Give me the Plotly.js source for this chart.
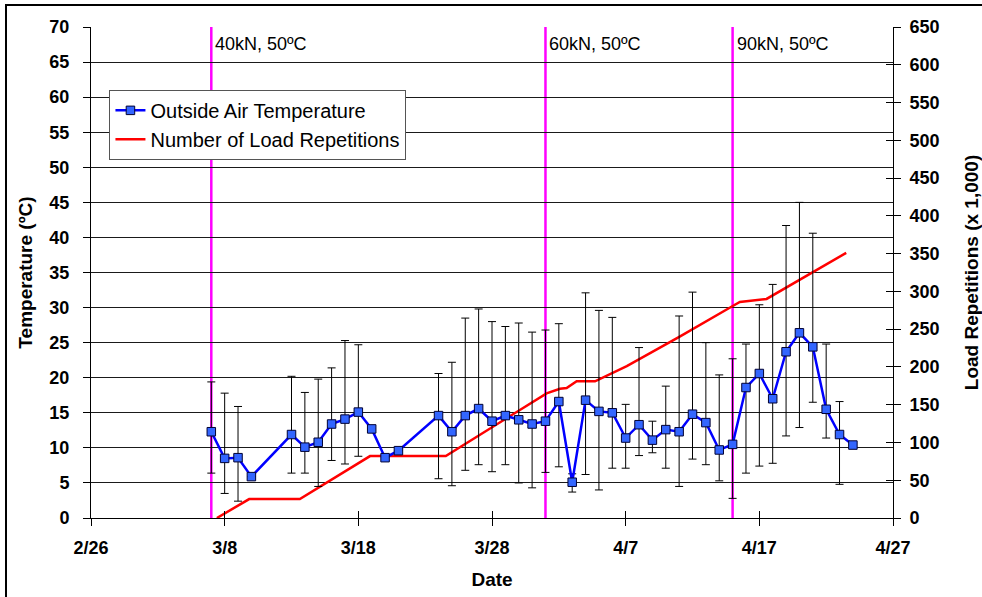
<!DOCTYPE html>
<html>
<head>
<meta charset="utf-8">
<script src="https://cdn.plot.ly/plotly-3.0.1.min.js"></script>
<style>
  html, body { margin: 0; padding: 0; background: #fff; overflow: hidden; }
  #chart { width: 982px; height: 597px; }
  #frame { position: absolute; left: 5px; top: 4px; width: 2000px; height: 2000px;
           border: 2px solid #000; pointer-events: none; }
</style>
</head>
<body>
<div id="chart"></div>
<div id="frame"></div>
<script>
// ---- Data ----
const tempDates = ["2003-03-07","2003-03-08","2003-03-09","2003-03-10","2003-03-13","2003-03-14","2003-03-15","2003-03-16","2003-03-17","2003-03-18","2003-03-19","2003-03-20","2003-03-21","2003-03-24","2003-03-25","2003-03-26","2003-03-27","2003-03-28","2003-03-29","2003-03-30","2003-03-31","2003-04-01","2003-04-02","2003-04-03","2003-04-04","2003-04-05","2003-04-06","2003-04-07","2003-04-08","2003-04-09","2003-04-10","2003-04-11","2003-04-12","2003-04-13","2003-04-14","2003-04-15","2003-04-16","2003-04-17","2003-04-18","2003-04-19","2003-04-20","2003-04-21","2003-04-22","2003-04-23","2003-04-24"];
const tempMean = [12.3,8.5,8.6,5.9,11.9,10.1,10.8,13.4,14.1,15.1,12.7,8.6,9.6,14.6,12.3,14.6,15.6,13.8,14.6,14.0,13.4,13.8,16.6,5.1,16.8,15.2,15.0,11.4,13.3,11.1,12.6,12.3,14.8,13.6,9.7,10.5,18.6,20.6,17.0,23.7,26.4,24.4,15.5,11.9,10.4];
const tempMax  = [19.4,17.8,15.9,null,20.2,17.9,19.8,21.4,25.3,24.7,null,null,null,20.6,22.2,28.5,29.8,28.0,27.3,27.8,26.5,26.8,27.7,6.3,32.1,29.6,28.6,16.2,24.3,13.8,18.8,28.8,32.2,25.0,20.4,22.7,24.8,30.4,33.3,41.7,45.0,40.6,24.8,16.6,null];
const tempMin  = [6.4,3.5,2.4,null,6.4,6.4,4.5,8.2,7.7,8.8,null,null,null,5.6,4.6,6.8,7.6,6.6,7.6,5.0,4.3,6.5,7.3,3.7,6.2,4.0,7.1,7.1,8.9,9.3,7.1,4.5,8.4,7.6,5.3,2.8,6.4,7.4,7.8,11.7,12.9,16.5,11.4,4.8,null];

const repDates  = ["2003-03-07 10:00","2003-03-09 20:00","2003-03-13 15:00","2003-03-18 21:00","2003-03-24 13:00","2003-03-30 02:00","2003-04-01 02:00","2003-04-02 02:00","2003-04-02 14:00","2003-04-03 08:00","2003-04-04 17:00","2003-04-07 02:00","2003-04-11 01:00","2003-04-15 01:00","2003-04-15 13:00","2003-04-17 13:00","2003-04-23 12:00"];
const repValues = [0,25,25,82,82,143,165,171,172,181,181,201,240,281,286,290,351];

const phaseDates  = ["2003-03-07","2003-04-01","2003-04-15"];
const phaseLabels = ["40kN, 50ºC","60kN, 50ºC","90kN, 50ºC"];

const xRange = ["2003-02-26","2003-04-27"];
const tempRange = [0,70];
const repRange = [0,650];

// ---- derived error bar arrays ----
const errPlus  = tempMean.map((v,i) => tempMax[i] == null ? null : +(tempMax[i]-v).toFixed(2));
const errMinus = tempMean.map((v,i) => tempMin[i] == null ? null : +(v-tempMin[i]).toFixed(2));

const FONT = "Liberation Sans, Arial, Helvetica, sans-serif";
const DAY = 86400000;

const traces = [
  {
    x: repDates, y: repValues, type: "scatter", mode: "lines",
    name: "Number of Load Repetitions", xaxis: "x", yaxis: "y",
    line: { color: "#FF0000", width: 2.5 }, legendrank: 2
  },
  {
    x: tempDates, y: tempMean, type: "scatter", mode: "lines+markers",
    name: "Outside Air Temperature", xaxis: "x", yaxis: "y2",
    line: { color: "#0000FF", width: 2.5 },
    marker: { symbol: "square", size: 8.5, color: "#3366FF", line: { color: "#000033", width: 1 } },
    error_y: { type: "data", symmetric: false, array: errPlus, arrayminus: errMinus,
               color: "#000", thickness: 1, width: 4 },
    legendrank: 1
  },
  { x: [], y: [], xaxis: "x2", yaxis: "y3", type: "scatter", showlegend: false, hoverinfo: "skip" }
];

const shapes = phaseDates.map(d => ({
  type: "line", xref: "x", yref: "paper", x0: d, x1: d, y0: 0, y1: 1,
  line: { color: "#FF00FF", width: 2.5 }, layer: "between"
}));

const annotations = phaseDates.map((d,i) => ({
  x: d, xref: "x", y: 0.965, yref: "paper", text: phaseLabels[i], showarrow: false,
  xanchor: "left", yanchor: "middle", xshift: 2,
  font: { family: FONT, size: 18, color: "#000" }
}));

const tickFont = { family: FONT, size: 18, color: "#000", weight: "bold" };
const titleFont = { family: FONT, size: 19, color: "#000", weight: "bold" };

const layout = {
  width: 982, height: 597,
  margin: { l: 91, r: 89, t: 27, b: 79 },
  paper_bgcolor: "#fff", plot_bgcolor: "#fff",
  showlegend: true,
  legend: {
    x: 0.023, y: 0.872, xanchor: "left", yanchor: "top",
    bgcolor: "#fff", bordercolor: "#555", borderwidth: 1,
    entrywidth: 270,
    font: { family: FONT, size: 20, color: "#000" }
  },
  xaxis: {
    type: "date", range: xRange, anchor: "y",
    tickmode: "linear", tick0: xRange[0], dtick: 10*DAY, tickformat: "%-m/%-d",
    ticks: "outside", ticklen: 7, tickcolor: "#000", tickwidth: 1, ticklabelstandoff: 6,
    showline: true, linecolor: "#000", linewidth: 1, showgrid: false, zeroline: false,
    tickfont: tickFont,
    title: { text: "Date", font: titleFont, standoff: 16 }
  },
  xaxis2: {
    type: "date", range: xRange, overlaying: "x", anchor: "y",
    tickmode: "linear", tick0: xRange[0], dtick: 10*DAY,
    ticks: "inside", ticklen: 7, tickcolor: "#000", showticklabels: false,
    showline: false, showgrid: false, zeroline: false
  },
  yaxis: {
    range: repRange, side: "right", anchor: "x", dtick: 50, tick0: 0,
    ticks: "outside", ticklen: 7, tickcolor: "#000", ticklabelstandoff: 5,
    showline: true, linecolor: "#000", showgrid: false, zeroline: false,
    tickfont: tickFont,
    title: { text: "Load Repetitions (x 1,000)", font: titleFont, standoff: 26 }
  },
  yaxis2: {
    range: tempRange, side: "left", overlaying: "y", anchor: "x", dtick: 5, tick0: 0,
    ticks: "outside", ticklen: 7, tickcolor: "#000", ticklabelstandoff: 10,
    showline: true, linecolor: "#000", showgrid: true, gridcolor: "#1a1a1a", gridwidth: 1,
    zeroline: false, tickfont: tickFont,
    title: { text: "Temperature (ºC)", font: titleFont, standoff: 11 }
  },
  yaxis3: {
    range: repRange, side: "right", overlaying: "y", anchor: "x2", dtick: 50, tick0: 0,
    ticks: "inside", ticklen: 7, tickcolor: "#000", showticklabels: false,
    showline: false, showgrid: false, zeroline: false
  },
  shapes: shapes,
  annotations: annotations
};

Plotly.newPlot("chart", traces, layout, { displayModeBar: false, staticPlot: true });
</script>
</body>
</html>
